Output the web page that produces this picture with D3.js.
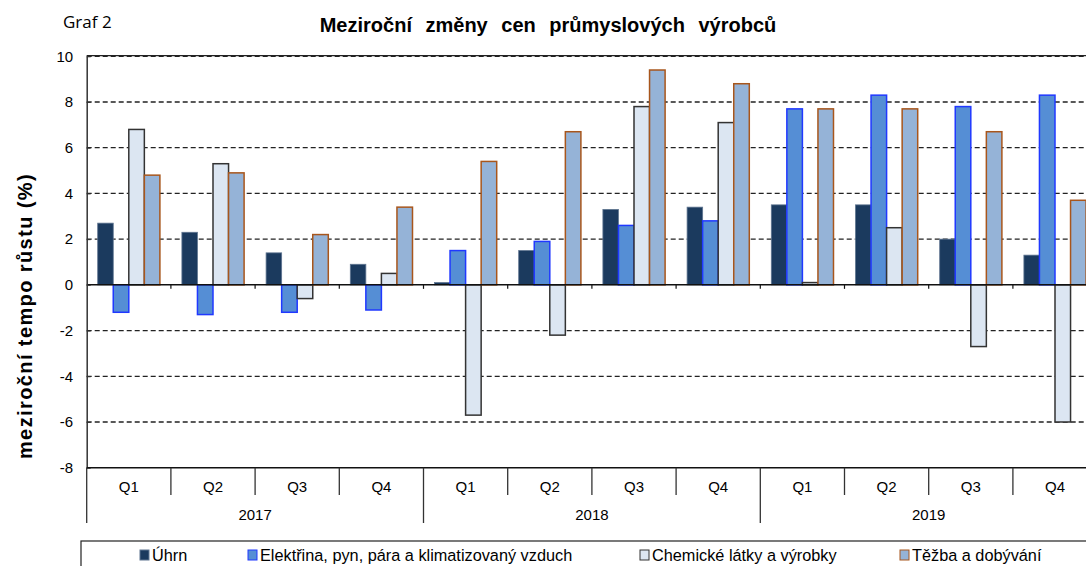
<!DOCTYPE html>
<html>
<head>
<meta charset="utf-8">
<script src="https://cdn.jsdelivr.net/npm/d3@7"></script>
<style>
body{margin:0;background:#fff;}
text{font-family:"Liberation Sans",Arial,sans-serif;}
</style>
</head>
<body>
<svg width="1086" height="566"></svg>
<script>
// data
var years = ['2017','2018','2019'];
var quarters = ['Q1','Q2','Q3','Q4'];
var categories = [];
years.forEach(function(y){ quarters.forEach(function(q){ categories.push(y+' '+q); }); });

var seriesNames = ['Úhrn','Elektřina, pyn, pára a klimatizovaný vzduch','Chemické látky a výrobky','Těžba a dobývání'];
var uhrn      = [2.7, 2.3, 1.4, 0.9,  0.1, 1.5, 3.3, 3.4,  3.5, 3.5, 2.0, 1.3];
var elektrina = [-1.2,-1.3,-1.2,-1.1, 1.5, 1.9, 2.6, 2.8,  7.7, 8.3, 7.8, 8.3];
var chemie    = [6.8, 5.3,-0.6, 0.5, -5.7,-2.2, 7.8, 7.1,  0.1, 2.5,-2.7,-6.0];
var tezba     = [4.8, 4.9, 2.2, 3.4,  5.4, 6.7, 9.4, 8.8,  7.7, 7.7, 6.7, 3.7];
var yTicks = [-8,-6,-4,-2,0,2,4,6,8,10];

var fills   = ['#1b3a5e','#558ed5','#dce6f2','#95b3d7'];
var strokes = ['#5f7590','#2038ff','#333333','#a8561c'];

var allSeries = [uhrn, elektrina, chemie, tezba];

var svg = d3.select('svg');
var pLeft = 86.7, pTop = 56.3, pBottom = 467.7, qw = 84.2;

var x0 = d3.scaleBand().domain(categories).range([pLeft, pLeft + qw*categories.length]).padding(0);
var x1 = d3.scaleBand().domain(d3.range(4)).range([11, qw-11]).padding(0);
var y = d3.scaleLinear().domain([-8,10]).range([pBottom, pTop]);

// gridlines
svg.append('g').selectAll('line').data(yTicks.filter(function(t){return t!==0 && t!==-8;}))
  .enter().append('line')
  .attr('x1', pLeft).attr('x2', 1086)
  .attr('y1', function(d){return y(d);}).attr('y2', function(d){return y(d);})
  .attr('stroke','#222').attr('stroke-width',1.3).attr('stroke-dasharray','5,3');

// top border
svg.append('line').attr('x1',pLeft).attr('x2',1086).attr('y1',y(10)-0.7).attr('y2',y(10)-0.7)
  .attr('stroke','#222').attr('stroke-width',1.2);

// bars
var groups = svg.append('g').selectAll('g').data(categories).enter().append('g')
  .attr('transform', function(d){ return 'translate('+x0(d)+',0)'; });
groups.selectAll('rect').data(function(d,i){ return allSeries.map(function(s,k){ return {k:k, v:s[i]}; }); })
  .enter().append('rect')
  .attr('x', function(d){ return x1(d.k); })
  .attr('width', x1.bandwidth())
  .attr('y', function(d){ return y(Math.max(0,d.v)); })
  .attr('height', function(d){ return Math.abs(y(d.v)-y(0)); })
  .attr('fill', function(d){ return fills[d.k]; })
  .attr('stroke', function(d){ return strokes[d.k]; })
  .attr('stroke-width', function(d){ return d.k===0 ? 0.8 : 1.5; });

// zero line + ticks
svg.append('line').attr('x1',pLeft).attr('x2',1086).attr('y1',y(0)).attr('y2',y(0))
  .attr('stroke','#111').attr('stroke-width',1.5);
svg.append('g').selectAll('line').data(categories.slice(1)).enter().append('line')
  .attr('x1',function(d){return x0(d);}).attr('x2',function(d){return x0(d);})
  .attr('y1',y(0)).attr('y2',y(0)+4).attr('stroke','#111').attr('stroke-width',1.2);

// y axis
var yAxis = d3.axisLeft(y).tickValues(yTicks).tickSizeInner(-4).tickSizeOuter(0).tickPadding(13.5)
  .tickFormat(function(d){ return String(d); });
var ya = svg.append('g').attr('transform','translate('+pLeft+',0)').call(yAxis);
ya.select('.domain').attr('stroke','#333').attr('stroke-width',1.5);
ya.selectAll('.tick line').attr('stroke','#333');
ya.selectAll('.tick text').attr('font-size',15).attr('fill','#000')
  .style('font-family','"Liberation Sans",Arial,sans-serif');

// bottom category axis
svg.append('line').attr('x1',pLeft).attr('x2',1086).attr('y1',pBottom).attr('y2',pBottom)
  .attr('stroke','#111').attr('stroke-width',1.5);
svg.append('g').selectAll('line').data(categories).enter().append('line')
  .attr('x1',function(d){return x0(d);}).attr('x2',function(d){return x0(d);})
  .attr('y1',pBottom).attr('y2',function(d,i){ return i%4===0 ? 523 : 495; })
  .attr('stroke','#333').attr('stroke-width',1.3);
svg.append('g').selectAll('text').data(categories).enter().append('text')
  .attr('x',function(d){return x0(d)+qw/2;}).attr('y',492)
  .attr('text-anchor','middle').attr('font-size',15)
  .text(function(d,i){ return quarters[i%4]; });
svg.append('g').selectAll('text').data(years).enter().append('text')
  .attr('x',function(d){ return x0(d+' Q1') + qw*2; }).attr('y',520)
  .attr('text-anchor','middle').attr('font-size',15)
  .text(function(d){ return d; });

// titles
svg.append('text').attr('x',63).attr('y',28).attr('font-size',17)
  .style('font-family','"Open Sans",sans-serif').text('Graf 2');
svg.append('text').attr('x',548).attr('y',32).attr('text-anchor','middle')
  .attr('font-size',20).attr('font-weight','bold').attr('word-spacing',8)
  .text('Meziroční změny cen průmyslových výrobců');
svg.append('text').attr('transform','translate(32,316) rotate(-90)')
  .attr('text-anchor','middle').attr('font-size',20).attr('font-weight','bold')
  .attr('letter-spacing',1.4)
  .text('meziroční tempo růstu (%)');

// legend
svg.append('rect').attr('x',81).attr('y',541).attr('width',1020).attr('height',40)
  .attr('fill','none').attr('stroke','#222').attr('stroke-width',1.2);
var legX = [140, 248, 640, 900];
var lg = svg.append('g').selectAll('g').data(seriesNames).enter().append('g')
  .attr('transform',function(d,i){ return 'translate('+legX[i]+',555)'; });
lg.append('rect').attr('x',0).attr('y',-5).attr('width',9).attr('height',10)
  .attr('fill',function(d,i){return fills[i];})
  .attr('stroke',function(d,i){return strokes[i];}).attr('stroke-width',1);
lg.append('text').attr('x',12).attr('y',6).attr('font-size',16.3)
  .text(function(d){return d;});
</script>
</body>
</html>
